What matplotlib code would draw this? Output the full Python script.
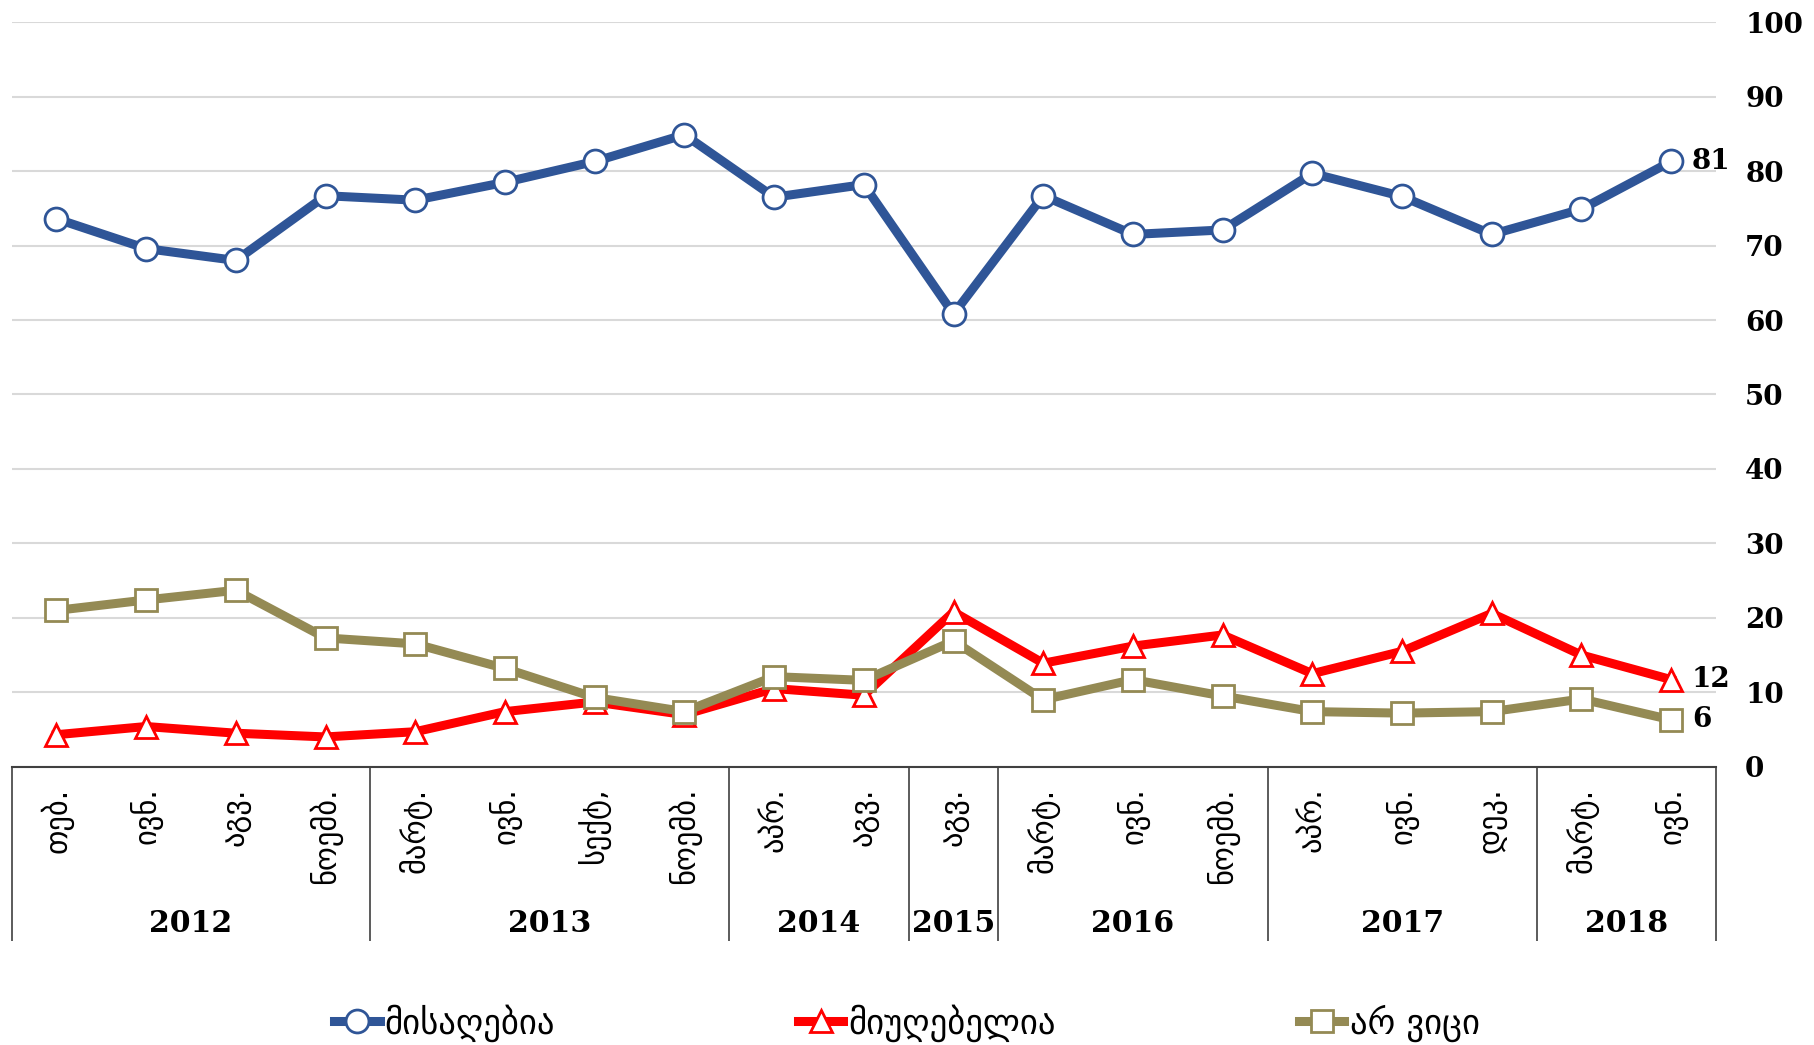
import matplotlib
matplotlib.use("Agg")
import matplotlib.pyplot as plt
from matplotlib.lines import Line2D

# survey waves (month abbreviations, Georgian) and the year they belong to
months = ["თებ.", "ივნ.", "აგვ.", "ნოემბ.",
          "მარტ.", "ივნ.", "სექტ,", "ნოემბ.",
          "აპრ.", "აგვ.",
          "აგვ.",
          "მარტ.", "ივნ.", "ნოემბ.",
          "აპრ.", "ივნ.", "დეკ.",
          "მარტ.", "ივნ."]
years = ["2012", "2013", "2014", "2015", "2016", "2017", "2018"]
year_counts = [4, 4, 2, 1, 3, 3, 2]

series_names = ["მისაღებია", "მიუღებელია", "არ ვიცი"]
acceptable = [73.6, 69.6, 68.0, 76.7, 76.1, 78.5, 81.3, 84.9, 76.5, 78.2,
              60.8, 76.7, 71.5, 72.1, 79.7, 76.6, 71.5, 74.9, 81.3]
unacceptable = [4.3, 5.4, 4.5, 4.0, 4.7, 7.4, 8.7, 7.0, 10.5, 9.6,
                20.8, 13.9, 16.2, 17.7, 12.5, 15.5, 20.6, 15.0, 11.7]
dont_know = [21.0, 22.4, 23.7, 17.3, 16.5, 13.2, 9.3, 7.4, 12.1, 11.6,
             16.9, 9.0, 11.7, 9.5, 7.4, 7.2, 7.4, 9.1, 6.3]
end_labels = ["81", "12", "6"]

BLUE = "#2F5597"
RED = "#FF0000"
OLIVE = "#948A54"
SERIF = ["DejaVu Serif", "DejaVu Sans"]
GEO = ["DejaVu Sans"]

fig = plt.figure(figsize=(18.14, 10.45), dpi=100)
ax = fig.add_axes([0.0064, 0.2663, 0.9396, 0.7124])

x = list(range(len(months)))
styles = [
    (acceptable, BLUE, "o"),
    (unacceptable, RED, "^"),
    (dont_know, OLIVE, "s"),
]
handles = []
for (vals, col, mk), name, z in zip(styles, series_names, [5, 3, 4]):
    ax.plot(x, vals, color=col, lw=6.5, marker=mk, ms=16.5,
            mfc="white", mec=col, mew=2, zorder=z, solid_joinstyle="round")
    handles.append(Line2D([], [], color=col, lw=6.5, marker=mk, ms=16.5,
                          mfc="white", mec=col, mew=2))

# value labels at the last wave
for (vals, col, mk), lab in zip(styles, end_labels):
    ax.annotate(lab, (x[-1], vals[-1]), xytext=(15, 0), textcoords="offset points",
                ha="left", va="center", fontsize=20, fontweight="bold",
                family=SERIF, zorder=6)

ax.set_xlim(-0.5, len(months) - 0.5)
ax.set_ylim(0, 100)
ax.set_yticks(range(0, 101, 10))
ax.yaxis.tick_right()
ax.tick_params(axis="y", length=0, pad=21)
for t in ax.get_yticklabels():
    t.set_fontsize(20)
    t.set_fontweight("bold")
    t.set_family(SERIF)
    t.set_horizontalalignment("left")
ax.grid(axis="y", color="#D9D9D9", lw=1.5)
ax.set_axisbelow(True)
for s in ["top", "right", "left"]:
    ax.spines[s].set_visible(False)
ax.spines["bottom"].set_color("#404040")
ax.spines["bottom"].set_linewidth(1.5)

ax.set_xticks(x)
ax.set_xticklabels(months, rotation=90, fontsize=22, family=GEO)
ax.tick_params(axis="x", length=0, pad=15)

# year groups under the month labels
bounds = [-0.5]
for n in year_counts:
    bounds.append(bounds[-1] + n)
tr = ax.get_xaxis_transform()
ax.vlines(bounds, -0.234, 0, transform=tr, colors="#404040", lw=1.2, clip_on=False)
for yr, a, b in zip(years, bounds[:-1], bounds[1:]):
    ax.text((a + b) / 2, -0.21, yr, transform=tr, ha="center", va="center",
            fontsize=21.5, fontweight="bold", family=SERIF)

fig.legend(handles, series_names, loc="center", bbox_to_anchor=(0.5, 0.021),
           ncol=3, frameon=False, prop={"family": GEO, "size": 25},
           handlelength=1.3, handletextpad=0.15, columnspacing=7)

fig.savefig("out.png", dpi=100)
